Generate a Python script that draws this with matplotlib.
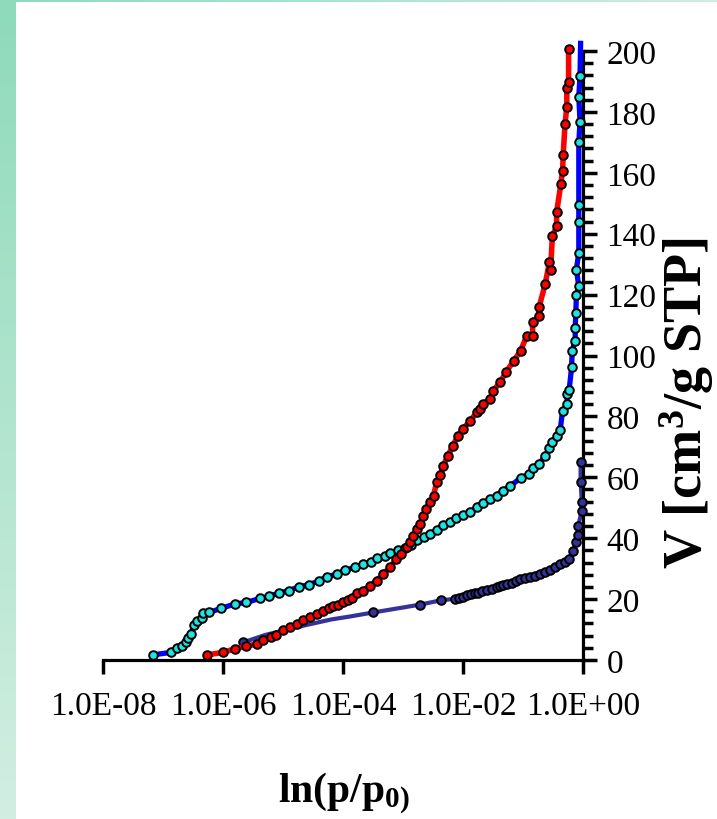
import numpy as np
import matplotlib
matplotlib.use("Agg")
import matplotlib.pyplot as plt
from matplotlib.ticker import FixedLocator, MultipleLocator, FuncFormatter, NullLocator

plt.rcParams['font.family'] = ['Liberation Serif', 'DejaVu Serif']
plt.rcParams['mathtext.default'] = 'regular'

# cyan markers / blue line (log10 p/p0, V)
blue_logp = [-7.16, -6.87, -6.76, -6.69, -6.62, -6.58, -6.54, -6.48, -6.43, -6.35, -6.33, -6.23,
             -6.03, -5.80, -5.61, -5.39, -5.23, -5.07, -4.90, -4.73, -4.57, -4.40, -4.26, -4.10,
             -3.97, -3.80, -3.66, -3.54, -3.43, -3.30, -3.21, -3.08, -2.97, -2.87, -2.76, -2.65,
             -2.55, -2.44, -2.33, -2.22, -2.11, -2.00, -1.88, -1.77, -1.66, -1.55, -1.44, -1.33,
             -1.22, -1.04, -0.90, -0.83, -0.73, -0.63, -0.56, -0.51, -0.44, -0.38, -0.34, -0.27,
             -0.26, -0.23, -0.19, -0.18, -0.13, -0.13, -0.12, -0.11, -0.07, -0.11, -0.07, -0.07,
             -0.07, -0.07, -0.05, -0.07, -0.05, -0.04]
blue_v = [1.7, 2.5, 3.8, 4.5, 5.8, 7.1, 8.5, 11.5, 12.9, 13.7, 15.3, 15.6,
          17.0, 18.4, 18.9, 20.2, 20.9, 22.0, 22.8, 24.1, 24.7, 26.0, 27.4, 28.2,
          29.5, 30.4, 31.5, 32.1, 33.4, 34.3, 35.2, 36.2, 36.8, 37.9, 39.4, 40.5,
          41.4, 42.8, 44.3, 45.4, 46.5, 47.6, 48.7, 50.1, 51.4, 52.9, 54.0, 55.6,
          57.0, 59.8, 61.1, 63.1, 64.4, 67.1, 69.5, 71.5, 73.5, 75.5, 81.9, 84.1,
          87.4, 88.8, 96.1, 101.6, 104.9, 109.0, 114.0, 120.0, 122.7, 128.2, 133.8, 143.8,
          149.5, 170.0, 176.7, 185.0, 191.8, 202.5]

# red line with red markers
red_logp = [-6.26, -6.00, -5.80, -5.61, -5.44, -5.33, -5.20, -5.11, -5.00, -4.88, -4.77, -4.66,
            -4.55, -4.44, -4.34, -4.23, -4.16, -4.08, -4.00, -3.91, -3.85, -3.77, -3.66, -3.55,
            -3.44, -3.33, -3.22, -3.11, -3.03, -2.94, -2.88, -2.83, -2.77, -2.72, -2.66, -2.61,
            -2.55, -2.49, -2.44, -2.38, -2.33, -2.25, -2.17, -2.08, -2.00, -1.88, -1.77, -1.72,
            -1.66, -1.55, -1.50, -1.38, -1.28, -1.15, -1.04, -0.94, -0.84, -0.84, -0.73, -0.73,
            -0.63, -0.56, -0.54, -0.51, -0.44, -0.44, -0.37, -0.34, -0.33, -0.30, -0.27, -0.27,
            -0.24, -0.24]
red_v = [1.7, 2.5, 3.7, 4.5, 5.3, 6.6, 7.7, 8.2, 9.9, 10.8, 11.8, 13.0,
         14.0, 15.1, 16.0, 17.0, 17.6, 18.2, 19.0, 19.7, 20.4, 22.0, 22.8, 24.4,
         26.0, 28.2, 30.4, 33.2, 34.8, 37.0, 38.6, 40.8, 43.0, 44.7, 47.4, 49.6,
         51.8, 54.0, 58.4, 60.8, 63.8, 67.1, 70.4, 73.7, 75.9, 78.6, 81.3, 82.4,
         84.1, 85.7, 88.4, 91.2, 94.7, 98.3, 101.6, 106.3, 106.3, 110.9, 113.0, 116.0,
         123.5, 130.6, 128.2, 139.2, 142.4, 147.0, 156.2, 160.7, 166.0, 175.9, 181.7, 187.7,
         189.7, 200.8]

# navy series: line read separately at the sparse low end, markers
navy_line_logp = [-5.66, -5.30, -4.72, -4.20, -3.88, -3.50]
navy_line_v = [5.8, 8.2, 11.0, 13.3, 14.3, 15.6]
navy_logp = [-5.66, -3.50, -2.71, -2.37, -2.13, -2.06, -2.00, -1.93, -1.86, -1.80, -1.75, -1.68,
             -1.60, -1.52, -1.44, -1.38, -1.33, -1.26, -1.19, -1.12, -1.05, -0.97, -0.88, -0.80,
             -0.72, -0.64, -0.55, -0.47, -0.38, -0.30, -0.24, -0.16, -0.12, -0.08, -0.08, -0.02,
             -0.02, -0.04, -0.04]
navy_v = [5.8, 15.6, 18.2, 19.6, 20.1, 20.5, 20.8, 21.2, 21.7, 21.9, 22.1, 22.5,
          23.0, 23.4, 23.9, 24.3, 24.7, 25.0, 25.4, 26.0, 26.6, 26.8, 27.1, 27.6,
          28.2, 28.9, 29.6, 30.5, 31.5, 32.3, 33.2, 35.9, 38.6, 41.0, 44.1, 49.0,
          52.0, 58.6, 64.9]

x_ticks = [1e-8, 1e-6, 1e-4, 1e-2, 1e0]

fig = plt.figure(figsize=(7.17, 8.2), dpi=100)

# green border strips of the slide background
left = fig.add_axes([0, 0, 16 / 717, 1])
grad = np.linspace(0, 1, 256).reshape(-1, 1)
c_top = np.array([142, 218, 186]) / 255
c_bot = np.array([210, 238, 226]) / 255
left.imshow((c_top + (c_bot - c_top) * grad[:, :, None]), aspect='auto')
left.axis('off')
top = fig.add_axes([0, 1 - 3 / 820, 1, 3 / 820])
grad_h = np.linspace(0, 1, 256).reshape(1, -1)
c_r = np.array([205, 238, 225]) / 255
top.imshow((c_top + (c_r - c_top) * grad_h[:, :, None]), aspect='auto')
top.axis('off')

ax = fig.add_axes([103 / 717, 1 - 661 / 820, 480 / 717, 609 / 820])

ms = 6.2
mew = 1.4
ax.plot(10 ** np.array(navy_line_logp + navy_logp[2:]), navy_line_v + navy_v[2:],
        color='#333399', lw=3.0, solid_capstyle='butt', clip_on=False, zorder=2)
ax.plot(10 ** np.array(navy_logp), navy_v, 'o', ms=ms, mfc='#333399', mec='black',
        mew=mew, clip_on=False, zorder=3)

ax.plot(10 ** np.array(blue_logp), blue_v, '-o', color='#0000FF', lw=3.8, ms=ms,
        mfc='#1EE3E3', mec='black', mew=mew, markevery=slice(0, len(blue_v) - 1),
        clip_on=False, zorder=4)

ax.plot(10 ** np.array(red_logp), red_v, '-o', color='#FF0000', lw=4.0, ms=ms,
        mfc='#FF0000', mec='black', mew=mew, clip_on=False, zorder=5)

ax.set_xscale('log')
ax.set_xlim(1e-8, 1)
ax.set_ylim(0, 200)

for s in ['top', 'left']:
    ax.spines[s].set_visible(False)
for s in ['bottom', 'right']:
    ax.spines[s].set_linewidth(2.3)

ax.xaxis.set_major_locator(FixedLocator(x_ticks))
ax.xaxis.set_minor_locator(NullLocator())
ax.xaxis.set_major_formatter(FuncFormatter(lambda v, p: f'{v:.1E}'))
ax.yaxis.tick_right()
ax.yaxis.set_major_locator(MultipleLocator(20))
ax.yaxis.set_minor_locator(MultipleLocator(4))

ax.tick_params(axis='x', which='major', length=10, width=2.5, direction='out', pad=12, labelsize=24)
ax.tick_params(axis='y', which='major', length=10, width=2.5, direction='out', pad=7, labelsize=24)
ax.tick_params(axis='y', which='minor', length=7, width=2.5, direction='out')

ylab = fig.text(705 / 717, 0.508, 'V [cm$^{3}$/g STP]', rotation=90, rotation_mode='anchor',
                fontsize=39, fontweight='bold', ha='center', va='baseline')
fig.text(0.479, 1 - 802 / 820, 'ln(p/p$_{0)}$', fontsize=30, fontweight='bold',
         ha='center', va='baseline')

# keep the rotated label's box inside the figure
fig.canvas.draw()
bb = ylab.get_window_extent()
if bb.x1 > 716:
    x0, y0 = ylab.get_position()
    ylab.set_position((x0 - (bb.x1 - 716) / 717, y0))

fig.savefig('out.png', dpi=100)
